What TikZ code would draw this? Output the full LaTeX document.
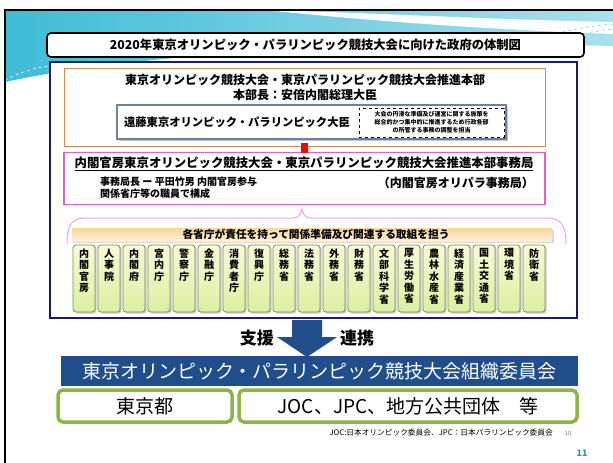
\documentclass[tikz,border=0pt]{standalone}
\usepackage{fontspec}
\setmainfont{Noto Sans CJK JP}
\definecolor{hdrL}{HTML}{3FBCD6}
\definecolor{hdrR}{HTML}{A9E0EE}
\definecolor{navyc}{HTML}{1A1A70}
\definecolor{orangec}{HTML}{D9874A}
\definecolor{minc}{HTML}{6F7F9F}
\definecolor{pinkc}{HTML}{E05FD0}
\definecolor{bracec}{HTML}{E9A6EC}
\definecolor{bandc}{HTML}{1F4E8A}
\definecolor{greenc}{HTML}{8FB347}
\definecolor{minbdr}{HTML}{7D8C5A}
\definecolor{mintop}{HTML}{F6FBD6}
\definecolor{minbot}{HTML}{DCEFA0}
\definecolor{beigetop}{HTML}{F8D79E}
\definecolor{beigebot}{HTML}{FDF0D6}
\definecolor{pagenum}{HTML}{3C8FB0}
\newcommand{\fsz}[1]{\fontsize{#1}{#1}\selectfont}
\tikzset{
  box/.style={rectangle, inner sep=0pt, minimum width=#1},
  titlebox/.style={box=537pt, minimum height=24pt, draw=black, line width=1.6pt, rounded corners=4pt, fill=white},
  navybox/.style={box=527pt, minimum height=256pt, draw=navyc, line width=2.5pt, fill=white},
  orangebox/.style={box=481pt, minimum height=78pt, draw=orangec, line width=1pt},
  ministerbox/.style={box=389pt, minimum height=34pt, draw=minc, line width=1.6pt, fill=white},
  dashbox/.style={box=145pt, minimum height=29pt, draw=black, dashed, line width=0.7pt, align=center, font=\fontsize{6}{8}\selectfont\bfseries},
  pinkbox/.style={box=481pt, minimum height=52pt, draw=pinkc, line width=1.5pt, fill=white},
  beigebox/.style={box=480pt, minimum height=13pt, top color=beigetop, bottom color=beigebot},
  ministry/.style={box=22pt, minimum height=67pt, draw=minbdr, line width=0.8pt, rounded corners=3pt, top color=mintop, bottom color=minbot},
  mintext/.style={anchor=north, inner sep=0pt, align=center, font=\fontsize{10}{11.5}\selectfont\bfseries},
  bandbox/.style={box=517pt, minimum height=30pt, fill=bandc, text=white, font=\fsz{19}},
  greenbox/.style={box=#1, minimum height=32pt, draw=greenc, line width=3.5pt, rounded corners=5pt, fill=white, font=\fsz{19}},
  lbl/.style={inner sep=0pt},
}
\begin{document}
\begin{tikzpicture}[x=1pt,y=-1pt]
\useasboundingbox (0,0) rectangle (613,463);
\fill[white] (0,0) rectangle (613,463);
% header background
\shade[left color=hdrL, right color=hdrR] (5,10) -- (613,10) -- (613,46) .. controls (420,40) and (150,50) .. (5,82) -- cycle;
\fill[white] (265,10) .. controls (380,13) and (500,20) .. (613,22) -- (613,34) .. controls (500,30) and (380,22) .. (265,10) -- cycle;
\draw[white, dashed, line width=0.6pt] (5,80) .. controls (20,72) and (35,68) .. (48,66);
\draw[hdrL!70, line width=0.6pt, dashed] (545,36) .. controls (570,30) and (590,26) .. (613,24);
\draw[hdrL!70, line width=0.6pt, dashed] (555,40) .. controls (575,35) and (595,31) .. (613,29);
% frame lines
\draw[black, line width=1.8pt] (5,463) -- (5,10) -- (613,10);

% title
\node[titlebox] (title) at (315.5,45) {\fsz{12.3}\bfseries 2020年東京オリンピック・パラリンピック競技大会に向けた政府の体制図};

% navy outer box
\node[navybox] (navy) at (313.5,190) {};

% orange box
\node[orangebox] (orange) at (304.5,107) {};
\node[lbl, font=\fsz{12}\bfseries] (hq1) at (305,80) {東京オリンピック競技大会・東京パラリンピック競技大会推進本部};
\node[lbl, font=\fsz{12}\bfseries] (hq2) at (305,95) {本部長：安倍内閣総理大臣};
\fill[gray!45] (119,107) rectangle (508,141);
\node[ministerbox] (minister) at (311.5,122) {};
\node[lbl, font=\fsz{11.3}\bfseries] (mintxt) at (237,122) {遠藤東京オリンピック・パラリンピック大臣};
\node[dashbox] (duty) at (431.5,122.5) {大会の円滑な準備及び運営に関する施策を\\総合的かつ集中的に推進するため行政各部\\の所管する事務の調整を担当};

% pink box
\node[pinkbox] (pink) at (304.5,178.5) {};
\fill[red] (300.5,143) rectangle (307.5,153);
\node[lbl, font=\fsz{12.4}\bfseries] (sec1) at (304,164) {\underline{内閣官房東京オリンピック競技大会・東京パラリンピック競技大会推進本部事務局}};
\node[lbl, anchor=west, font=\fsz{10}\bfseries] (sec2) at (100,182) {事務局長 ー 平田竹男 内閣官房参与};
\node[lbl, anchor=west, font=\fsz{10}\bfseries] (sec3) at (100,194) {関係省庁等の職員で構成};
\node[lbl, anchor=east, font=\fsz{12}\bfseries] (sec4) at (534,183) {（内閣官房オリパラ事務局）};

% brace
\draw[bracec, line width=1pt] (67,244) .. controls (67,226) and (71,218) .. (86,218) -- (293,218) .. controls (299,218) and (301,214) .. (302,209) .. controls (303,214) and (305,218) .. (311,218) -- (548,218) .. controls (561,218) and (566,226) .. (566,244);

% beige band
\fill[gray!30] (74,230) rectangle (554,243);
\node[beigebox] (beige) at (312,234.5) {};
\node[lbl, font=\fsz{10.7}\bfseries] (beigetxt) at (316,234.5) {各省庁が責任を持って関係準備及び関連する取組を担う};

% ministries
\foreach \name [count=\i from 0] in {内\\閣\\官\\房, 人\\事\\院, 内\\閣\\府, 宮\\内\\庁, 警\\察\\庁, 金\\融\\庁, 消\\費\\者\\庁, 復\\興\\庁, 総\\務\\省, 法\\務\\省, 外\\務\\省, 財\\務\\省, 文\\部\\科\\学\\省, 厚\\生\\労\\働\\省, 農\\林\\水\\産\\省, 経\\済\\産\\業\\省, 国\\土\\交\\通\\省, 環\\境\\省, 防\\衛\\省} {
  \fill[gray!40, rounded corners=3pt] ({74.5+25*\i},246) rectangle ({96.5+25*\i},313.5);
  \node[ministry] (m\i) at ({84+25*\i},278.5) {};
  \node[mintext] (mt\i) at ({84+25*\i},248.5) {\name};
}

% arrow
\fill[bandc] (292,320) -- (322,320) -- (322,337) -- (337,337) -- (307,357) -- (277,337) -- (292,337) -- cycle;
\node[lbl, anchor=east, font=\fsz{17}\bfseries] (shien) at (274,338) {支援};
\node[lbl, anchor=west, font=\fsz{17}\bfseries] (renkei) at (340,338) {連携};

% organizing committee
\node[bandbox] (band) at (319.5,371) {東京オリンピック・パラリンピック競技大会組織委員会};
\node[greenbox=174pt] (tokyo) at (145,406) {東京都};
\node[greenbox=338pt] (joc) at (408,406) {JOC、JPC、地方公共団体　等};

% footnotes
\node[lbl, anchor=east, font=\fsz{7.7}] (note) at (553,433) {JOC:日本オリンピック委員会、JPC：日本パラリンピック委員会};
\node[lbl, font=\fsz{6}, text=gray] (p10) at (568,433) {10};
\node[lbl, font=\fsz{9}\bfseries, text=pagenum] (p11) at (582,453) {11};
\end{tikzpicture}
\end{document}
